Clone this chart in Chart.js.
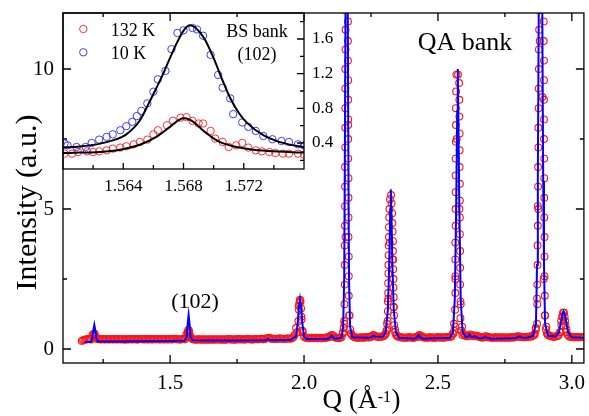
<!DOCTYPE html>
<html>
<head>
<meta charset="utf-8">
<script src="https://cdn.jsdelivr.net/npm/chart.js@4.4.1/dist/chart.umd.min.js"></script>
<style>
body { margin: 0; background: #fff; }
#wrap { position: relative; width: 589px; height: 416px; }
#wrap canvas { position: absolute; left: 0; top: 0; }
#inset { pointer-events: none; }
</style>
</head>
<body>
<div id="wrap">
  <canvas id="main" width="589" height="416"></canvas>
  <canvas id="inset" width="589" height="416"></canvas>
</div>
<script>
// QA bank: measured intensity (red circles), every 0.01 from Q = 1.17 ...
const baseQ0 = 1.17, baseStep = 0.01;
const redBase = [
  0.29, 0.33, 0.35, 0.36, 0.50, 0.45, 0.35, 0.34, 0.36, 0.35,
  0.34, 0.36, 0.35, 0.34, 0.36, 0.35, 0.33, 0.35, 0.36, 0.34,
  0.35, 0.34, 0.36, 0.35, 0.37, 0.34, 0.35, 0.36, 0.35, 0.34,
  0.36, 0.35, 0.34, 0.36, 0.35, 0.37, 0.35, 0.34, 0.36, 0.50,
  0.62, 0.38, 0.34, 0.33, 0.35, 0.34, 0.33, 0.35, 0.34, 0.33,
  0.35, 0.34, 0.33, 0.35, 0.34, 0.36, 0.34, 0.33, 0.35, 0.34,
  0.35, 0.34, 0.36, 0.35, 0.34, 0.36, 0.35, 0.37, 0.35, 0.38,
  0.40, 0.36, 0.37, 0.36, 0.38, 0.37, 0.36, 0.38, 0.37, 0.42,
  0.75, 1.55, 1.15, 0.45, 0.39, 0.38, 0.40, 0.39, 0.38, 0.40,
  0.39, 0.40, 0.42, 0.48, 0.46, 0.40, 0.39, 0.42, 1.00, 16.0,
  1.20, 0.48, 0.42, 0.40, 0.41, 0.40, 0.42, 0.41, 0.43, 0.50,
  0.46, 0.43, 0.44, 0.47, 0.90, 3.80, 3.20, 0.70, 0.45, 0.42,
  0.41, 0.40, 0.42, 0.41, 0.40, 0.43, 0.50, 0.44, 0.41, 0.40,
  0.42, 0.41, 0.40, 0.42, 0.41, 0.40, 0.42, 0.43, 0.45, 0.90,
  7.50, 5.00, 0.80, 0.48, 0.45, 0.52, 0.47, 0.48, 0.46, 0.42,
  0.41, 0.46, 0.43, 0.40, 0.41, 0.40, 0.42, 0.41, 0.40, 0.41,
  0.42, 0.41, 0.43, 0.46, 0.44, 0.42, 0.43, 0.44, 0.45, 0.50,
  1.80, 11.0, 9.00, 1.20, 0.50, 0.46, 0.44, 0.45, 0.48, 1.00,
  1.30, 0.70, 0.45, 0.43, 0.42, 0.43, 0.42, 0.43
];
// ... and the points in between, from Q = 1.175
const baseQ0b = 1.175;
const redBaseB = [
  0.31, 0.34, 0.36, 0.34, 0.55, 0.38, 0.36, 0.35, 0.34, 0.36,
  0.35, 0.34, 0.36, 0.35, 0.34, 0.36, 0.35, 0.34, 0.35, 0.36,
  0.34, 0.36, 0.35, 0.34, 0.35, 0.36, 0.34, 0.35, 0.36, 0.35,
  0.34, 0.36, 0.35, 0.34, 0.36, 0.35, 0.34, 0.36, 0.35, 0.60,
  0.45, 0.35, 0.34, 0.35, 0.33, 0.35, 0.34, 0.33, 0.35, 0.34,
  0.34, 0.35, 0.34, 0.33, 0.35, 0.34, 0.35, 0.34, 0.36, 0.35,
  0.34, 0.36, 0.35, 0.34, 0.36, 0.35, 0.36, 0.35, 0.37, 0.39,
  0.38, 0.37, 0.36, 0.38, 0.37, 0.36, 0.38, 0.37, 0.39, 0.50,
  0.60, 1.75, 0.60, 0.41, 0.39, 0.40, 0.38, 0.40, 0.39, 0.38,
  0.40, 0.41, 0.43, 0.50, 0.42, 0.40, 0.41, 0.55, 4.00, 8.00,
  0.55, 0.44, 0.41, 0.40, 0.42, 0.41, 0.43, 0.42, 0.48, 0.45,
  0.44, 0.45, 0.46, 0.55, 1.80, 5.50, 1.50, 0.50, 0.43, 0.41,
  0.40, 0.41, 0.42, 0.40, 0.42, 0.44, 0.48, 0.42, 0.40, 0.41,
  0.41, 0.40, 0.42, 0.41, 0.42, 0.41, 0.43, 0.44, 0.55, 2.50,
  9.80, 1.60, 0.55, 0.46, 0.47, 0.50, 0.45, 0.47, 0.43, 0.41,
  0.45, 0.42, 0.41, 0.40, 0.42, 0.41, 0.40, 0.42, 0.41, 0.40,
  0.41, 0.42, 0.45, 0.44, 0.43, 0.42, 0.44, 0.45, 0.48, 0.75,
  5.00, 20.0, 2.50, 0.80, 0.48, 0.45, 0.44, 0.46, 0.60, 1.15,
  1.00, 0.50, 0.44, 0.42, 0.43, 0.42, 0.43, 0.42
];

// extra measured points on the peaks, [Q, intensity]
const redSmall = [
  [1.214, 0.50], [1.218, 0.55], [1.221, 0.45],
  [1.564, 0.45], [1.566, 0.60], [1.568, 0.68], [1.570, 0.66], [1.572, 0.55], [1.574, 0.42],
  [1.976, 0.60], [1.979, 1.00], [1.981, 1.40], [1.983, 1.65], [1.985, 1.75], [1.987, 1.70], [1.989, 1.45], [1.991, 1.05], [1.994, 0.65],
  [2.958, 0.60], [2.961, 0.85], [2.964, 1.15], [2.967, 1.30], [2.970, 1.30], [2.973, 1.15], [2.976, 0.85], [2.979, 0.60]
];
const redFeet = [
  [2.145, 0.60], [2.148, 0.75], [2.172, 0.70], [2.176, 0.55],
  [2.305, 0.55], [2.308, 0.65], [2.340, 0.60], [2.344, 0.50],
  [2.558, 0.55], [2.561, 0.65], [2.588, 0.65], [2.591, 0.50],
  [2.862, 0.55], [2.866, 0.70], [2.903, 0.70], [2.907, 0.55]
];
const redPeak2159 = [
  [2.151, 0.9], [2.151, 1.6], [2.152, 2.3], [2.152, 3.0], [2.152, 3.7], [2.153, 4.4], [2.153, 5.1], [2.153, 5.8], [2.153, 6.5],
  [2.154, 7.2], [2.154, 7.9], [2.154, 8.6], [2.154, 9.3], [2.154, 10.0], [2.155, 10.7], [2.155, 11.4], [2.155, 12.1],
  [2.168, 1.2], [2.167, 1.9], [2.167, 2.6], [2.167, 3.3], [2.166, 4.0], [2.166, 4.7], [2.166, 5.4], [2.166, 6.1],
  [2.165, 6.8], [2.165, 7.5], [2.165, 8.2], [2.165, 8.9], [2.165, 9.6], [2.164, 10.3], [2.164, 11.0], [2.164, 11.7]
];
const redPeak2324 = [
  [2.311, 0.7], [2.312, 1.0], [2.313, 1.35], [2.313, 1.7], [2.314, 2.0], [2.314, 2.35], [2.315, 2.7], [2.315, 3.0],
  [2.316, 3.35], [2.316, 3.7], [2.317, 4.0], [2.317, 4.35], [2.318, 4.7], [2.319, 5.0], [2.321, 5.35],
  [2.337, 0.85], [2.336, 1.2], [2.335, 1.5], [2.335, 1.85], [2.334, 2.2], [2.334, 2.5], [2.333, 2.85], [2.333, 3.2],
  [2.332, 3.5], [2.332, 3.85], [2.331, 4.2], [2.330, 4.5], [2.329, 4.85], [2.327, 5.2]
];
const redPeak2574 = [
  [2.564, 0.8], [2.564, 1.4], [2.565, 2.0], [2.565, 2.6], [2.565, 3.2], [2.565, 3.8], [2.566, 4.4], [2.566, 5.0],
  [2.566, 5.6], [2.566, 6.2], [2.566, 6.8], [2.567, 7.4], [2.567, 8.0], [2.567, 8.6], [2.568, 9.2], [2.569, 9.8],
  [2.584, 1.1], [2.584, 1.7], [2.583, 2.3], [2.583, 2.9], [2.583, 3.5], [2.582, 4.1], [2.582, 4.7], [2.582, 5.3],
  [2.582, 5.9], [2.581, 6.5], [2.581, 7.1], [2.581, 7.7], [2.580, 8.3], [2.580, 8.9], [2.579, 9.5]
];
const redPeak2883 = [
  [2.870, 0.9], [2.871, 1.6], [2.871, 2.3], [2.872, 3.0], [2.872, 3.7], [2.873, 4.4], [2.873, 5.1], [2.874, 5.8], [2.874, 6.5],
  [2.875, 7.2], [2.875, 7.9], [2.876, 8.6], [2.876, 9.3], [2.877, 10.0], [2.877, 10.7], [2.878, 11.4], [2.878, 12.1],
  [2.899, 1.2], [2.899, 1.9], [2.898, 2.6], [2.898, 3.3], [2.898, 4.0], [2.897, 4.7], [2.897, 5.4], [2.897, 6.1],
  [2.897, 6.8], [2.896, 7.5], [2.896, 8.2], [2.896, 8.9], [2.896, 9.6], [2.896, 10.3], [2.895, 11.0], [2.895, 11.7]
];

// QA bank: calculated profile (blue line), [Q, intensity]
const bluePts = [
  [1.180, 0.25], [1.205, 0.26], [1.210, 0.40], [1.214, 0.70], [1.217, 0.86], [1.220, 0.70], [1.224, 0.40], [1.230, 0.27],
  [1.30, 0.27], [1.40, 0.28], [1.50, 0.29], [1.555, 0.30], [1.562, 0.45], [1.566, 0.95], [1.569, 1.22], [1.572, 0.95], [1.576, 0.45], [1.583, 0.31],
  [1.65, 0.30], [1.75, 0.30], [1.855, 0.31], [1.865, 0.36], [1.875, 0.31], [1.95, 0.33],
  [1.970, 0.45], [1.976, 0.90], [1.981, 1.50], [1.985, 1.78], [1.989, 1.50], [1.994, 0.90], [2.000, 0.45], [2.010, 0.36],
  [2.09, 0.37], [2.098, 0.42], [2.103, 0.48], [2.108, 0.42], [2.115, 0.37], [2.140, 0.40],
  [2.146, 0.80], [2.150, 2.50], [2.153, 8.0], [2.159, 22.0], [2.165, 8.0], [2.168, 2.50], [2.172, 0.80], [2.180, 0.42],
  [2.24, 0.40], [2.252, 0.42], [2.259, 0.48], [2.266, 0.44], [2.295, 0.45],
  [2.305, 0.60], [2.313, 1.40], [2.318, 3.00], [2.322, 5.00], [2.324, 5.70], [2.326, 5.00], [2.330, 3.00], [2.335, 1.40], [2.343, 0.60], [2.355, 0.40],
  [2.415, 0.37], [2.422, 0.42], [2.428, 0.50], [2.434, 0.42], [2.442, 0.37],
  [2.545, 0.40], [2.556, 0.60], [2.563, 1.80], [2.568, 5.00], [2.572, 8.50], [2.574, 10.0], [2.576, 8.50], [2.580, 5.00], [2.585, 1.80], [2.592, 0.60],
  [2.605, 0.42], [2.612, 0.44], [2.617, 0.52], [2.623, 0.45], [2.632, 0.43], [2.638, 0.46], [2.645, 0.41], [2.660, 0.38],
  [2.670, 0.40], [2.678, 0.44], [2.686, 0.39], [2.70, 0.37], [2.785, 0.38], [2.795, 0.41], [2.804, 0.45], [2.813, 0.41], [2.83, 0.40],
  [2.855, 0.47], [2.866, 0.90], [2.870, 3.0], [2.873, 6.0], [2.883, 24.0], [2.893, 6.0], [2.896, 3.0], [2.900, 0.90], [2.911, 0.47],
  [2.940, 0.45], [2.952, 0.60], [2.960, 1.00], [2.966, 1.30], [2.969, 1.35], [2.972, 1.30], [2.978, 1.00], [2.986, 0.60], [2.998, 0.42], [3.045, 0.40]
];

// BS bank inset, (102) peak: circles and black fits, [Q, intensity]
const bs132K = [
  [1.5601, 0.277], [1.5606, 0.277], [1.5610, 0.296], [1.5616, 0.304], [1.5620, 0.296], [1.5624, 0.304], [1.5629, 0.315],
  [1.5633, 0.335], [1.5638, 0.347], [1.5642, 0.362], [1.5647, 0.385], [1.5651, 0.412], [1.5656, 0.439], [1.5660, 0.500],
  [1.5663, 0.547], [1.5669, 0.605], [1.5673, 0.657], [1.5678, 0.692], [1.5682, 0.698], [1.5686, 0.655], [1.5690, 0.625],
  [1.5693, 0.625], [1.5698, 0.539], [1.5701, 0.451], [1.5706, 0.412], [1.5710, 0.354], [1.5715, 0.373], [1.5719, 0.400],
  [1.5723, 0.347], [1.5728, 0.315], [1.5732, 0.304], [1.5737, 0.296], [1.5741, 0.284], [1.5746, 0.277], [1.5750, 0.277],
  [1.5756, 0.277], [1.5760, 0.265]
];
const bs10K = [
  [1.5601, 0.393], [1.5603, 0.373], [1.5609, 0.354], [1.5615, 0.354], [1.5619, 0.400], [1.5624, 0.439], [1.5629, 0.470],
  [1.5633, 0.500], [1.5638, 0.547], [1.5642, 0.594], [1.5646, 0.644], [1.5649, 0.710], [1.5652, 0.771], [1.5656, 0.857],
  [1.5660, 0.992], [1.5663, 1.135], [1.5668, 1.232], [1.5672, 1.483], [1.5676, 1.670], [1.5680, 1.700], [1.5686, 1.727],
  [1.5689, 1.710], [1.5693, 1.638], [1.5698, 1.417], [1.5703, 1.185], [1.5706, 1.038], [1.5711, 0.915], [1.5713, 0.733],
  [1.5719, 0.637], [1.5723, 0.586], [1.5728, 0.539], [1.5733, 0.481], [1.5739, 0.443], [1.5745, 0.423], [1.5750, 0.412],
  [1.5756, 0.385], [1.5760, 0.373]
];
const fit132K = [
  [1.5600, 0.284], [1.5611, 0.289], [1.5624, 0.296], [1.5638, 0.323], [1.5651, 0.380], [1.5662, 0.470], [1.5671, 0.586],
  [1.5676, 0.655], [1.5680, 0.685], [1.5684, 0.670], [1.5688, 0.625], [1.5692, 0.560], [1.5698, 0.478], [1.5704, 0.412],
  [1.5713, 0.362], [1.5724, 0.327], [1.5736, 0.307], [1.5760, 0.289]
];
const fit10K = [
  [1.5600, 0.347], [1.5611, 0.360], [1.5624, 0.390], [1.5633, 0.430], [1.5642, 0.500], [1.5651, 0.660], [1.5657, 0.860],
  [1.5661, 1.000], [1.5666, 1.180], [1.5671, 1.380], [1.5676, 1.570], [1.5681, 1.720], [1.5684, 1.760], [1.5688, 1.730],
  [1.5694, 1.600], [1.5700, 1.380], [1.5706, 1.120], [1.5711, 0.920], [1.5717, 0.740], [1.5722, 0.635], [1.5733, 0.490],
  [1.5744, 0.410], [1.5760, 0.350]
];

// tick values
const qTicks = [1.5, 2.0, 2.5, 3.0];
const qMinor = [1.25, 1.75, 2.25, 2.75];
const iTicks = [0, 5, 10];
const iMinor = [2.5, 7.5];
const bsQTicks = [1.564, 1.568, 1.572];
const bsQMinor = [1.562, 1.566, 1.570, 1.574];
const bsITicks = [0.4, 0.8, 1.2, 1.6];
const bsIMinor = [0.2, 0.6, 1.0, 1.4, 1.8];

const FONT = '"Liberation Serif", "Times New Roman", serif';
const toXY = arr => arr.map(p => ({ x: p[0], y: p[1] }));

// inward tick marks on chosen sides of the plot box
function drawTicks(ctx, a, scale, values, len, sides) {
  ctx.beginPath();
  values.forEach(v => {
    const p = scale.getPixelForValue(v);
    sides.forEach(s => {
      if (s === 'bottom') { ctx.moveTo(p, a.bottom); ctx.lineTo(p, a.bottom - len); }
      if (s === 'top') { ctx.moveTo(p, a.top); ctx.lineTo(p, a.top + len); }
      if (s === 'left') { ctx.moveTo(a.left, p); ctx.lineTo(a.left + len, p); }
      if (s === 'right') { ctx.moveTo(a.right, p); ctx.lineTo(a.right - len, p); }
    });
  });
  ctx.stroke();
}

function txt(ctx, s, x, y, size, align) {
  ctx.font = size + 'px ' + FONT;
  ctx.textAlign = align || 'left';
  ctx.textBaseline = 'alphabetic';
  ctx.fillText(s, x, y);
}

const mainDecor = {
  id: 'mainDecor',
  afterDraw(chart) {
    const { ctx, chartArea: a, scales } = chart;
    ctx.save();
    ctx.strokeStyle = '#000';
    ctx.lineWidth = 1.3;
    ctx.strokeRect(a.left, a.top, a.right - a.left, a.bottom - a.top);
    drawTicks(ctx, a, scales.x, qTicks, 8, ['bottom', 'top']);
    drawTicks(ctx, a, scales.x, qMinor, 4, ['bottom', 'top']);
    drawTicks(ctx, a, scales.y, iTicks, 8, ['left', 'right']);
    drawTicks(ctx, a, scales.y, iMinor, 4, ['left', 'right']);

    ctx.fillStyle = '#000';
    txt(ctx, 'QA bank', 465, 49.5, 26, 'center');
    txt(ctx, '(102)', 195, 308, 22, 'center');

    // x title with superscript
    let x = 322.5;
    txt(ctx, 'Q (Å', x, 408, 27);
    x += ctx.measureText('Q (Å').width;
    txt(ctx, '-1', x + 0.5, 401.5, 16);
    x += ctx.measureText('-1').width + 1;
    txt(ctx, ')', x, 408, 27);

    // y title
    ctx.save();
    ctx.translate(35.5, 202.5);
    ctx.rotate(-Math.PI / 2);
    txt(ctx, 'Intensity (a.u.)', 0, 0, 30, 'center');
    ctx.restore();
    ctx.restore();
  }
};

const insetDecor = {
  id: 'insetDecor',
  afterDraw(chart) {
    const { ctx, chartArea: a, scales } = chart;
    ctx.save();
    ctx.strokeStyle = '#000';
    ctx.lineWidth = 1.3;
    ctx.strokeRect(a.left, a.top, a.right - a.left, a.bottom - a.top);
    drawTicks(ctx, a, scales.x, bsQTicks, 6, ['bottom']);
    drawTicks(ctx, a, scales.x, bsQMinor, 4, ['bottom']);
    drawTicks(ctx, a, scales.y, bsITicks, 7, ['right']);
    drawTicks(ctx, a, scales.y, bsIMinor, 4, ['right']);

    // legend
    const ds = chart.data.datasets;
    [[ds[3], 29, '132 K'], [ds[2], 52.3, '10 K']].forEach(([d, y, label]) => {
      ctx.beginPath();
      ctx.lineWidth = 1;
      ctx.strokeStyle = d.borderColor;
      ctx.arc(83.3, y, d.pointRadius, 0, Math.PI * 2);
      ctx.stroke();
      ctx.fillStyle = '#000';
      txt(ctx, label, 110.7, y + 6.5, 18);
    });
    txt(ctx, 'BS bank', 257, 36.5, 18, 'center');
    txt(ctx, '(102)', 257, 59.5, 18, 'center');
    ctx.restore();
  }
};

function axis(min, max, ticks, fmt, size, pad, fit) {
  return {
    type: 'linear', min: min, max: max,
    grid: { display: false, drawTicks: false },
    border: { display: false },
    ticks: {
      color: '#000', font: { family: FONT, size: size }, padding: pad,
      autoSkip: false, maxRotation: 0, minRotation: 0, callback: fmt
    },
    afterBuildTicks: s => { s.ticks = ticks.map(v => ({ value: v })); },
    afterFit: fit
  };
}

document.addEventListener('DOMContentLoaded', function() {
  const onGrid = (vals, q0) => vals.map((v, i) => ({ x: +(q0 + i * baseStep).toFixed(3), y: v }));
  const redPts = onGrid(redBase, baseQ0).concat(onGrid(redBaseB, baseQ0b),
    toXY(redSmall), toXY(redFeet), toXY(redPeak2159), toXY(redPeak2324), toXY(redPeak2574), toXY(redPeak2883));

  new Chart(document.getElementById('main'), {
    type: 'scatter',
    data: {
      datasets: [
        { label: 'calc', data: toXY(bluePts), showLine: true, borderColor: '#0000ff', borderWidth: 2, pointRadius: 0, tension: 0 },
        { label: 'obs', data: redPts, pointRadius: 3.4, borderWidth: 1.1, borderColor: 'rgb(255,20,20)', backgroundColor: 'rgba(0,0,0,0)' }
      ]
    },
    options: {
      responsive: false,
      animation: false,
      events: [],
      layout: { padding: { left: 0, top: 13, right: 1, bottom: 0 } },
      plugins: { legend: { display: false }, tooltip: { enabled: false } },
      scales: {
        x: Object.assign(axis(1.1, 3.045, qTicks, v => v.toFixed(1), 21, 7.5,
          s => { s.height = 53; s.paddingLeft = 0; s.paddingRight = 0; }), { position: 'bottom' }),
        y: Object.assign(axis(-0.5, 12, iTicks, v => String(v), 21, 9,
          s => { s.width = 63; s.paddingTop = 0; s.paddingBottom = 0; }), { position: 'left' })
      }
    },
    plugins: [mainDecor]
  });

  new Chart(document.getElementById('inset'), {
    type: 'scatter',
    data: {
      datasets: [
        { label: 'fit 10 K', data: toXY(fit10K), showLine: true, borderColor: '#000', borderWidth: 2, pointRadius: 0, cubicInterpolationMode: 'monotone' },
        { label: 'fit 132 K', data: toXY(fit132K), showLine: true, borderColor: '#000', borderWidth: 2, pointRadius: 0, cubicInterpolationMode: 'monotone' },
        { label: '10 K', data: toXY(bs10K), pointRadius: 3.7, borderWidth: 1, borderColor: 'rgb(60,60,255)', backgroundColor: 'rgba(0,0,0,0)' },
        { label: '132 K', data: toXY(bs132K), pointRadius: 3.7, borderWidth: 1, borderColor: 'rgb(255,50,50)', backgroundColor: 'rgba(0,0,0,0)' }
      ]
    },
    options: {
      responsive: false,
      animation: false,
      events: [],
      layout: { padding: { left: 63, top: 13, right: 245, bottom: 217 } },
      plugins: { legend: { display: false }, tooltip: { enabled: false } },
      scales: {
        x: Object.assign(axis(1.560, 1.576, bsQTicks, v => v.toFixed(3), 17, 7,
          s => { s.height = 30; s.paddingLeft = 0; s.paddingRight = 0; }), { position: 'bottom' }),
        y: Object.assign(axis(0.1, 1.9, bsITicks, v => v.toFixed(1), 17, 8,
          s => { s.width = 40; s.paddingTop = 0; s.paddingBottom = 0; }), { position: 'right' })
      }
    },
    plugins: [insetDecor]
  });
});
</script>
</body>
</html>
